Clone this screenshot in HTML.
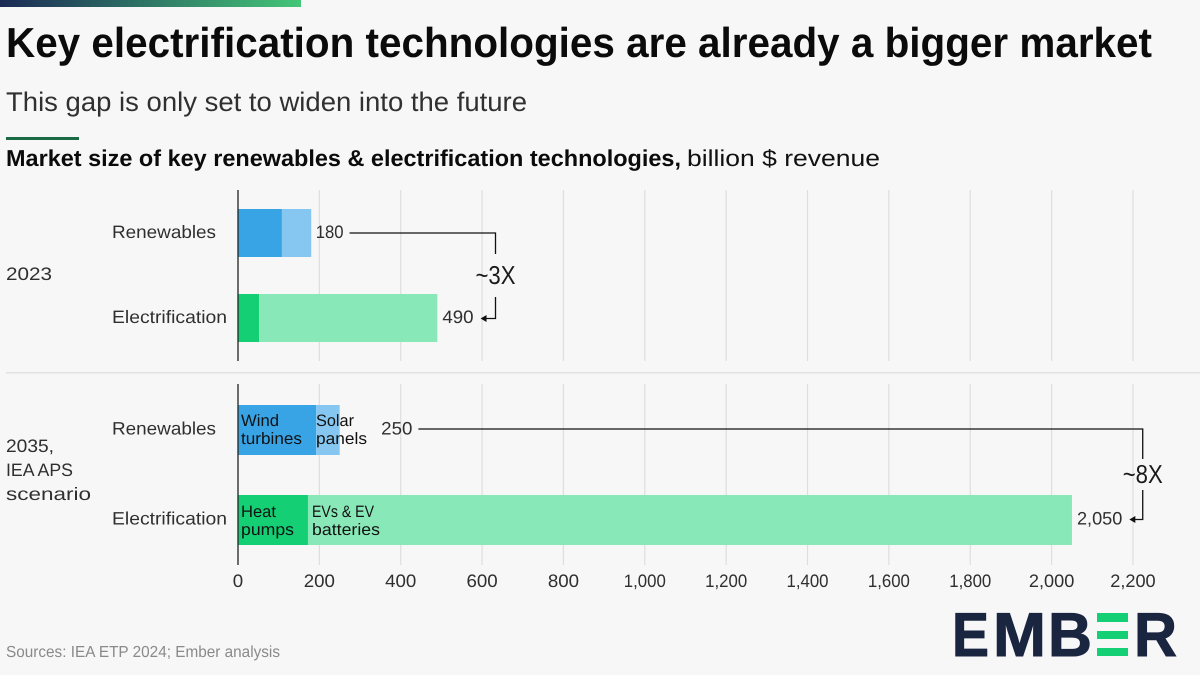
<!DOCTYPE html>
<html lang="en">
<head>
<meta charset="utf-8">
<title>Key electrification technologies are already a bigger market</title>
<style>
  html, body { margin: 0; padding: 0; background: #f7f7f7; }
  svg { display: block; font-family: "Liberation Sans", sans-serif; text-rendering: geometricPrecision; }
</style>
</head>
<body>
<svg id="chart" width="1200" height="675" viewBox="0 0 1200 675" xmlns="http://www.w3.org/2000/svg">
  <defs>
    <linearGradient id="topGradient" x1="0" x2="1" y1="0" y2="0">
      <stop offset="0" stop-color="#1b2a55"/>
      <stop offset="1" stop-color="#44c677"/>
    </linearGradient>
  </defs>
  <rect width="1200" height="675" fill="#f7f7f7"/>
  <rect x="0" y="0" width="301" height="7" fill="url(#topGradient)"/>
  <text x="6" y="57" font-size="42" font-weight="700" fill="#0b0b0b" textLength="1146" lengthAdjust="spacingAndGlyphs">Key electrification technologies are already a bigger market</text>
  <text x="6" y="111" font-size="27" fill="#303030" textLength="521" lengthAdjust="spacingAndGlyphs">This gap is only set to widen into the future</text>
  <rect x="6" y="137" width="73" height="3" fill="#1a6b45"/>
  <text x="6" y="166" font-size="23" font-weight="700" fill="#0b0b0b" textLength="675" lengthAdjust="spacingAndGlyphs">Market size of key renewables &amp; electrification technologies,</text>
  <text x="687" y="166" font-size="23" fill="#111" textLength="193" lengthAdjust="spacingAndGlyphs">billion $ revenue</text>
  <rect x="6" y="372" width="1194" height="1.5" fill="#e2e2e2"/>
  <g id="plot"></g>
  <text x="6" y="657" font-size="16" fill="#8a8a8a" textLength="274" lengthAdjust="spacingAndGlyphs">Sources: IEA ETP 2024; Ember analysis</text>
  <g font-size="62" font-weight="700" fill="#1a2540" stroke="#1a2540" stroke-width="1">
    <text x="952" y="656" textLength="37" lengthAdjust="spacingAndGlyphs">E</text>
    <text x="993" y="656" textLength="53" lengthAdjust="spacingAndGlyphs">M</text>
    <text x="1048" y="656" textLength="44" lengthAdjust="spacingAndGlyphs">B</text>
    <rect x="1097" y="613" width="31" height="9" fill="#14cf74" stroke="none"/>
    <rect x="1097" y="631" width="31" height="8" fill="#14cf74" stroke="none"/>
    <rect x="1097" y="648" width="31" height="8" fill="#14cf74" stroke="none"/>
    <text x="1134" y="656" textLength="43" lengthAdjust="spacingAndGlyphs">R</text>
  </g>
</svg>
<script>
// ---- Data ----
const tickValues = [0, 200, 400, 600, 800, 1000, 1200, 1400, 1600, 1800, 2000, 2200];
const tickLabels = ["0", "200", "400", "600", "800", "1,000", "1,200", "1,400", "1,600", "1,800", "2,000", "2,200"];
const rowNames = ["Renewables", "Electrification"];
const renewablesFirst = [108, 192];
const renewablesSecond = [72, 58];
const electrificationFirst = [52, 172];
const electrificationSecond = [438, 1878];
const renewablesTotalLabels = ["180", "250"];
const electrificationTotalLabels = ["490", "2,050"];
const multipleLabels = ["~3X", "~8X"];
const bracketValues = [633, 2224];

// ---- Axis function ----
const X0 = 238, PX_PER_UNIT = 0.4068;
function xScale(v) { return X0 + v * PX_PER_UNIT; }

// ---- Layout (not data) ----
const panelTop = [190, 384], panelBottom = [361, 565];
const renBarTop = [209, 405], renBarH = [48, 50];
const elecBarTop = [294, 495], elecBarH = [48, 50];
const renLabelGap = [4.5, 41.5], elecLabelGap = [5, 5];
const renBaseline = [238, 434.5], elecBaseline = [323, 524.5];
const renLineY = [233, 429], elecLineY = [318.5, 519.5];
const upperEnd = [254, 459], lowerStart = [297, 490];
const multBaseline = [284, 483];

const NS = "http://www.w3.org/2000/svg";
const plot = document.getElementById("plot");
function mk(tag, attrs, txt) {
  const e = document.createElementNS(NS, tag);
  for (const k in attrs) e.setAttribute(k, attrs[k]);
  if (txt !== undefined) e.textContent = txt;
  plot.appendChild(e);
  return e;
}
// Poppins-like width for digit strings
function numWidth(s) {
  let w = 0;
  for (const c of s) w += (c === ",") ? 3.8 : (c === "1" ? 7 : 10.4);
  return w;
}
const LABEL = { "font-size": 18, fill: "#2f2f2f", lengthAdjust: "spacingAndGlyphs" };
const SEG = { "font-size": 16.5, fill: "#111", lengthAdjust: "spacingAndGlyphs" };

// Gridlines (drawn first so the bars cover them)
tickValues.forEach(function (v) {
  if (v === 0) return;
  panelTop.forEach(function (top, p) {
    const g = mk("line", { x1: xScale(v), x2: xScale(v), y1: top, y2: panelBottom[p], stroke: "#dedede", "stroke-width": 1.2 });
    
    
  });
});

// Bars, values and comparison brackets
[0, 1].forEach(function (p) {
  const r1 = renewablesFirst[p], r2 = renewablesSecond[p];
  const e1 = electrificationFirst[p], e2 = electrificationSecond[p];

  const a = mk("rect", { x: xScale(0), y: renBarTop[p], width: xScale(r1) - xScale(0), height: renBarH[p], fill: "#38a4e6" });
  
  
  const b = mk("rect", { x: xScale(r1), y: renBarTop[p], width: xScale(r1 + r2) - xScale(r1), height: renBarH[p], fill: "#85c7f1" });
  
  
  const c = mk("rect", { x: xScale(0), y: elecBarTop[p], width: xScale(e1) - xScale(0), height: elecBarH[p], fill: "#14cf74" });
  
  
  const d = mk("rect", { x: xScale(e1), y: elecBarTop[p], width: xScale(e1 + e2) - xScale(e1), height: elecBarH[p], fill: "#89e8b8" });
  
  

  // Row names
  const n1 = mk("text", Object.assign({ x: 112, y: renBaseline[p], textLength: 104 }, LABEL), rowNames[0]);
  
  
  const n2 = mk("text", Object.assign({ x: 112, y: elecBaseline[p], textLength: 115 }, LABEL), rowNames[1]);
  
  

  // Totals
  const rs = renewablesTotalLabels[p], es = electrificationTotalLabels[p];
  const rx = xScale(r1 + r2) + renLabelGap[p], ex = xScale(e1 + e2) + elecLabelGap[p];
  const rw = numWidth(rs), ew = numWidth(es);
  const v1 = mk("text", Object.assign({ x: rx, y: renBaseline[p], textLength: rw }, LABEL), rs);
  
  
  const v2 = mk("text", Object.assign({ x: ex, y: elecBaseline[p], textLength: ew }, LABEL), es);
  
  

  // Bracket
  const bx = xScale(bracketValues[p]);
  const tipX = ex + ew + 7;
  const up = mk("path", { d: "M" + (rx + rw + 6) + " " + renLineY[p] + "H" + bx + "V" + upperEnd[p], fill: "none", stroke: "#111", "stroke-width": 1.3 });
  
  
  const lo = mk("path", { d: "M" + bx + " " + lowerStart[p] + "V" + elecLineY[p] + "H" + (tipX + 5), fill: "none", stroke: "#111", "stroke-width": 1.3 });
  
  
  const y = elecLineY[p];
  const ar = mk("polygon", { points: tipX + "," + y + " " + (tipX + 6) + "," + (y - 3.5) + " " + (tipX + 6) + "," + (y + 3.5), fill: "#111" });
  
  
  const m = mk("text", { x: bx - 20, y: multBaseline[p], "font-size": 26, fill: "#1a1a1a", textLength: 40, lengthAdjust: "spacingAndGlyphs" }, multipleLabels[p]);
  
  

  // Zero axis
  const ax = mk("line", { x1: xScale(0), x2: xScale(0), y1: panelTop[p], y2: panelBottom[p], stroke: "#222", "stroke-width": 1.3 });
  
  
});

// Tick labels
tickValues.forEach(function (v, i) {
  const s = tickLabels[i];
  const w = numWidth(s);
  const t = mk("text", Object.assign({ x: xScale(v) - w / 2, y: 587, textLength: w }, LABEL), s);
  
  
});

// Group labels
const g1 = mk("text", Object.assign({ x: 6, y: 280, textLength: 46 }, LABEL), "2023");


const g2 = mk("text", Object.assign({ x: 6, y: 452, textLength: 48 }, LABEL), "2035,");


const g3 = mk("text", Object.assign({ x: 6, y: 476, textLength: 67 }, LABEL), "IEA APS");


const g4 = mk("text", Object.assign({ x: 6, y: 500, textLength: 85 }, LABEL), "scenario");



// Segment labels in the 2035 bars
const s1 = mk("text", Object.assign({ x: 241, y: 426, textLength: 38 }, SEG), "Wind");


const s2 = mk("text", Object.assign({ x: 241, y: 444, textLength: 61 }, SEG), "turbines");


const s3 = mk("text", Object.assign({ x: 316, y: 426, textLength: 38 }, SEG), "Solar");


const s4 = mk("text", Object.assign({ x: 316, y: 444, textLength: 51 }, SEG), "panels");


const s5 = mk("text", Object.assign({ x: 241, y: 517, textLength: 35 }, SEG), "Heat");


const s6 = mk("text", Object.assign({ x: 241, y: 535, textLength: 53 }, SEG), "pumps");


const s7 = mk("text", Object.assign({ x: 312, y: 517, textLength: 62 }, SEG), "EVs & EV");


const s8 = mk("text", Object.assign({ x: 312, y: 535, textLength: 68 }, SEG), "batteries");


</script>
</body>
</html>
